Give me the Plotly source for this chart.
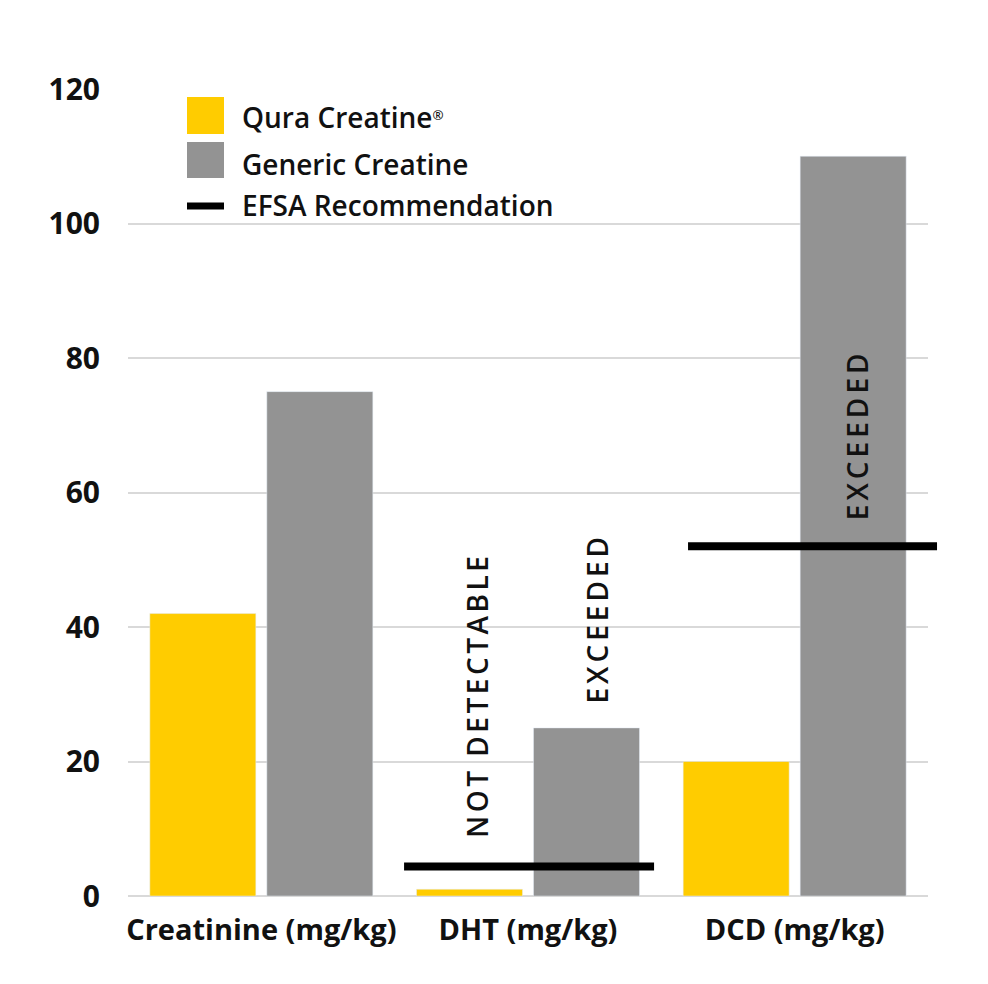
import plotly.graph_objects as go

# data
categories = ['Creatinine (mg/kg)', 'DHT (mg/kg)', 'DCD (mg/kg)']
qura = [42, 1, 20]
generic = [75, 25, 110]
efsa_cats = ['DHT (mg/kg)', 'DCD (mg/kg)']
efsa = [4.4, 52]
notes = ['NOT DETECTABLE', 'EXCEEDED', 'EXCEEDED']
note_cats = ['DHT (mg/kg)', 'DHT (mg/kg)', 'DCD (mg/kg)']
note_y = [29.9, 41.3, 68.6]

YELLOW = '#FFCC00'
GREY = '#939393'
FONT = 'Open Sans'

# the page body has an 8px margin, so the figure is drawn 8px smaller
OFF = 8
W, H = 988 - OFF, 984 - OFF
L, T = 128 - OFF, 89 - OFF
PW, PH = 800, 807
R, B = W - L - PW, H - T - PH

xpos = {c: i for i, c in enumerate(categories)}
# EFSA markers: centre offset (category units) and length (px);
# a line-ew marker is drawn 1.4x its size
efsa_dx = {'DHT (mg/kg)': 0.004, 'DCD (mg/kg)': 0.067}
efsa_len = {'DHT (mg/kg)': 250, 'DCD (mg/kg)': 249}
note_dx = [-0.19, 0.26, 0.232]

fig = go.Figure()
fig.add_bar(x=list(range(len(categories))), y=qura, name='Qura Creatine®',
            marker_color=YELLOW, showlegend=False)
fig.add_bar(x=list(range(len(categories))), y=generic, name='Generic Creatine',
            marker_color=GREY, showlegend=False)

# drawn as wide line markers so they may run past the plot edge
for c, v in zip(efsa_cats, efsa):
    fig.add_scatter(x=[xpos[c] + efsa_dx[c]], y=[v], mode='markers',
                    marker=dict(symbol='line-ew', size=efsa_len[c] / 1.4,
                                line=dict(color='black', width=8)),
                    cliponaxis=False, showlegend=False, hoverinfo='skip',
                    name='EFSA Recommendation')

for t, c, y, dx in zip(notes, note_cats, note_y, note_dx):
    fig.add_annotation(x=xpos[c] + dx, y=y, text=t, textangle=-90,
                       showarrow=False,
                       font=dict(family=FONT, size=28, color='#111', weight=600))


def px(xp, yp):
    # reference pixel -> paper coords
    return (xp - OFF - L) / PW, (T + PH - (yp - OFF)) / PH


# hand-built legend
for yy0, yy1, col in [(97, 134, YELLOW), (142, 178, GREY)]:
    x0, y0 = px(187, yy1)
    x1, y1 = px(224, yy0)
    fig.add_shape(type='rect', xref='paper', yref='paper', x0=x0, x1=x1,
                  y0=y0, y1=y1, fillcolor=col, line_width=0)
x0, yl = px(187, 206)
x1, _ = px(224, 206)
fig.add_shape(type='line', xref='paper', yref='paper', x0=x0, x1=x1, y0=yl, y1=yl,
              line=dict(color='black', width=7))
for label, yp in [('Qura Creatine<span style="font-size:19px"><sup>®</sup></span>', 117),
                  ('Generic Creatine', 164), ('EFSA Recommendation', 205)]:
    xx, yy = px(240, yp)
    fig.add_annotation(xref='paper', yref='paper', x=xx, y=yy, text=label,
                       showarrow=False, xanchor='left', yanchor='middle',
                       font=dict(family=FONT, size=28, color='#111', weight=600))

fig.update_layout(
    width=W, height=H,
    margin=dict(l=L, r=R, t=T, b=B),
    plot_bgcolor='white', paper_bgcolor='white',
    barmode='group', bargap=0.1225, bargroupgap=0.094,
    font=dict(family=FONT, color='#111'),
)
fig.update_xaxes(range=[-0.5, 2.5], tickvals=list(range(len(categories))),
                 ticktext=categories, showgrid=False, zeroline=False,
                 tickfont=dict(size=29, weight=700),
                 ticks='outside', ticklen=8, tickcolor='white')
fig.update_yaxes(range=[0, 120], dtick=20, showgrid=True, gridcolor='#d9d9d9',
                 gridwidth=2, zeroline=True, zerolinecolor='#d9d9d9',
                 zerolinewidth=2, tickfont=dict(size=30, weight=700),
                 ticks='outside', ticklen=21, tickcolor='white')

js = """
document.querySelectorAll('.annotation-text').forEach(function(t){
  var s = t.textContent;
  if (s === 'NOT DETECTABLE') { t.style.letterSpacing = '3.5px'; }
  if (s === 'EXCEEDED') { t.style.letterSpacing = '4px'; }
});
"""
fig.write_html('out.html', post_script=js)
